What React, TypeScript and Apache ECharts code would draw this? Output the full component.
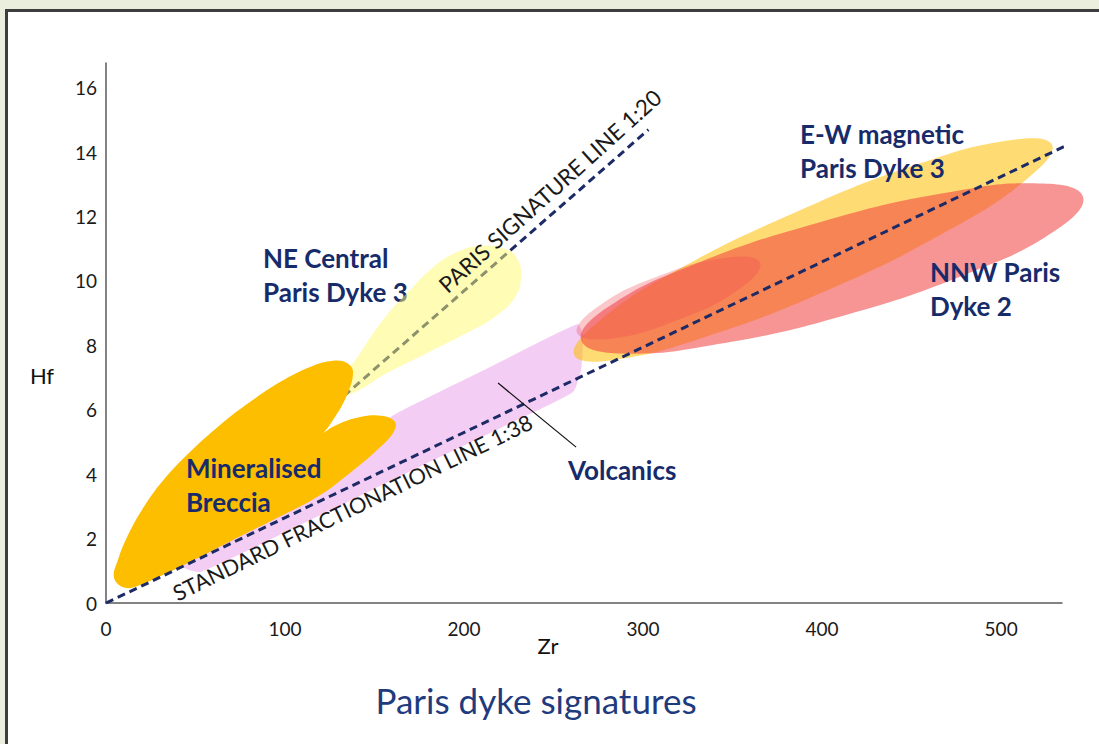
import React, { useEffect, useRef } from "react";
import * as echarts from "echarts";

// ---------- data (Zr, Hf) ----------
const xTickValues = [0, 100, 200, 300, 400, 500];
const yTickValues = [0, 2, 4, 6, 8, 10, 12, 14, 16];

const volcanicsOutline: [number, number][] = [
  [41.3, 1.18], [108.4, 3.66], [159.2, 5.78], [208.9, 7.17], [253.6, 8.42],
  [263.7, 8.66], [266.5, 8.32], [265.4, 7.24], [260.9, 6.55], [220.1, 5.43],
  [164.2, 3.94], [108.4, 2.42], [52.5, 0.96],
];

const neCentralOutline: [number, number][] = [
  [125.1, 6.37], [141.9, 7.76], [154.7, 8.79], [169.8, 9.72], [182.7, 10.43],
  [196.1, 10.9], [208.9, 11.09], [221.8, 11.02], [229.6, 10.71], [231.8, 10.12],
  [228.5, 9.5], [218.4, 8.94], [201.7, 8.39], [179.3, 7.76], [157.0, 7.14],
  [138.0, 6.52],
];

const brecciaOutline: [number, number][] = [
  [4.5, 0.78], [6.7, 1.34], [12.3, 2.11], [21.8, 3.04], [33.0, 3.88], [46.9, 4.69],
  [63.7, 5.53], [80.4, 6.24], [97.2, 6.86], [114.0, 7.33], [126.8, 7.52],
  [134.6, 7.45], [138.0, 7.17], [134.6, 6.46], [126.8, 5.68], [119.6, 5.16],
  [115.6, 5.0], [126.8, 5.47], [141.9, 5.78], [154.7, 5.81], [161.5, 5.62],
  [160.3, 5.28], [151.4, 4.75], [136.3, 4.04], [117.9, 3.29], [93.3, 2.58],
  [70.9, 1.96], [52.5, 1.43], [34.1, 0.93], [19.0, 0.56], [10.6, 0.47],
];

const ewMagneticOutline: [number, number][] = [
  [528.5, 14.22], [506.1, 14.38], [453.6, 13.63], [385.5, 12.14], [320.1, 10.37],
  [274.9, 8.73], [261.5, 7.7], [283.8, 7.55], [336.3, 8.29], [404.5, 9.75],
  [469.8, 11.55], [515.1, 13.2],
];

const nnwParisOutline: [number, number][] = [
  [545.8, 12.61], [523.5, 13.03], [469.3, 12.74], [398.3, 11.82], [329.1, 10.53],
  [280.4, 9.19], [265.4, 8.17], [287.7, 7.75], [341.9, 8.04], [412.8, 8.94],
  [482.1, 10.25], [530.7, 11.58],
];

const nnwParisInnerOutline: [number, number][] = [
  [365.4, 10.56], [347.5, 10.73], [309.5, 10.17], [274.7, 9.2], [263.1, 8.39],
  [281.6, 8.21], [319.0, 8.78], [353.8, 9.75],
];

const standardFractionationLine: [number, number][] = [[0, 0], [555, 14.7]];
const parisSignatureLine: [number, number][] = [[122, 5.9], [303, 14.7]];
const volcanicsPointer: [number, number][] = [[219, 6.83], [262.6, 4.84]];

// ---------- styling ----------
const FONT = "Lato, 'Open Sans', sans-serif";
const LABEL_BLUE = "#172B6B";
const LINE_NAVY = "#1C2A66";

function polygonSeries(name: string, pts: [number, number][], fill: string, z: number, smooth: number) {
  return {
    type: "custom",
    name,
    z,
    silent: true,
    clip: false,
    coordinateSystem: "cartesian2d",
    data: [pts[0]],
    renderItem: (_params: any, api: any) => ({
      type: "polygon",
      shape: { points: pts.map((p) => api.coord(p)), smooth },
      style: { fill },
    }),
  };
}

function dashedLine(name: string, pts: [number, number][], z: number) {
  return {
    type: "line",
    name,
    z,
    silent: true,
    clip: false,
    symbol: "none",
    data: pts,
    lineStyle: { color: LINE_NAVY, width: 3, type: [8, 5] },
  };
}

function label(text: string, x: number, y: number, opts: any = {}) {
  return {
    type: "text",
    x,
    y,
    z: opts.z ?? 100,
    rotation: opts.rotation ?? 0,
    silent: true,
    style: {
      text,
      fill: opts.color ?? LABEL_BLUE,
      fontFamily: FONT,
      fontSize: opts.size ?? 26,
      fontWeight: opts.weight ?? "bold",
      lineHeight: opts.lineHeight ?? 34,
      align: opts.align ?? "left",
      textAlign: opts.align ?? "left",
      verticalAlign: opts.valign ?? "middle",
      textVerticalAlign: opts.valign ?? "middle",
    },
  };
}

export default function App() {
  const ref = useRef<HTMLDivElement>(null);

  useEffect(() => {
    if (!ref.current) return;
    const chart = echarts.init(ref.current, undefined, { renderer: "svg" });
    const deg = Math.PI / 180;
    chart.setOption({
      animation: false,
      backgroundColor: "transparent",
      grid: { left: 106, right: 37, top: 63, bottom: 141, containLabel: false },
      xAxis: {
        type: "value",
        min: 0,
        max: 534,
        interval: 100,
        axisLine: { show: true, lineStyle: { color: "#5a5a5a", width: 1.5 } },
        axisTick: { show: false },
        splitLine: { show: false },
        axisLabel: {
          showMaxLabel: false,
          margin: 16,
          color: "#1a1a1a",
          fontFamily: FONT,
          fontSize: 19,
          formatter: (v: number) => (xTickValues.includes(v) ? String(v) : ""),
        },
      },
      yAxis: {
        type: "value",
        min: 0,
        max: 16.77,
        interval: 2,
        axisLine: { show: true, lineStyle: { color: "#5a5a5a", width: 1.5 } },
        axisTick: { show: false },
        splitLine: { show: false },
        axisLabel: {
          showMaxLabel: false,
          margin: 9,
          color: "#1a1a1a",
          fontFamily: FONT,
          fontSize: 19,
          formatter: (v: number) => (yTickValues.includes(v) ? String(v) : ""),
        },
      },
      series: [
        polygonSeries("Volcanics", volcanicsOutline, "#F4CDF4", 1, 0.15),
        dashedLine("Paris signature line 1:20", parisSignatureLine, 2),
        polygonSeries("NE Central Paris Dyke 3", neCentralOutline, "rgba(255,250,110,0.5)", 3, 0.45),
        polygonSeries("Mineralised Breccia", brecciaOutline, "#FDBE00", 4, 0.4),
        polygonSeries("E-W magnetic Paris Dyke 3", ewMagneticOutline, "rgba(255,190,0,0.55)", 5, 0.45),
        polygonSeries("NNW Paris Dyke 2", nnwParisOutline, "rgba(240,60,60,0.55)", 6, 0.45),
        polygonSeries("NNW Paris Dyke 2 (core)", nnwParisInnerOutline, "rgba(238,70,80,0.3)", 7, 0.45),
        dashedLine("Standard fractionation line 1:38", standardFractionationLine, 8),
        {
          type: "line",
          name: "Volcanics pointer",
          z: 8,
          silent: true,
          symbol: "none",
          data: volcanicsPointer,
          lineStyle: { color: "#111", width: 1.2 },
        },
      ],
      graphic: [
        label("NE Central\nParis Dyke 3", 263, 275, { z: 2 }),
        label("E-W magnetic\nParis Dyke 3", 800, 151),
        label("NNW Paris\nDyke 2", 930, 289),
        label("Mineralised\nBreccia", 186, 485),
        label("Volcanics", 568, 470),
        label("STANDARD FRACTIONATION LINE 1:38", 174, 594, {
          rotation: 26.0 * deg, weight: "normal", size: 21.8, lineHeight: 22,
          color: "#1a1a1a", valign: "middle",
        }),
        label("PARIS SIGNATURE LINE 1:20", 442, 288, {
          rotation: 42 * deg, weight: "normal", size: 22.3, lineHeight: 22,
          color: "#1a1a1a", valign: "middle",
        }),
        label("Hf", 42, 375, { weight: "normal", size: 22, color: "#111", align: "center" }),
        label("Zr", 548, 645, { weight: "normal", size: 22, color: "#111", align: "center" }),
        label("Paris dyke signatures", 536, 700, {
          weight: "normal", size: 35, color: "#1F3B7E", align: "center", lineHeight: 40,
        }),
      ],
    });
    return () => chart.dispose();
  }, []);

  return (
    <div
      style={{
        position: "fixed",
        left: 0,
        top: 0,
        width: 1099,
        height: 744,
        overflow: "hidden",
        background: "#ECEEDD",
      }}
    >
      <div
        style={{
          position: "absolute",
          left: 5,
          top: 9,
          width: 1200,
          height: 900,
          border: "3px solid #3d3d3d",
          background: "#ffffff",
        }}
      />
      <div ref={ref} style={{ position: "absolute", left: 0, top: 0, width: 1099, height: 744 }} />
    </div>
  );
}
